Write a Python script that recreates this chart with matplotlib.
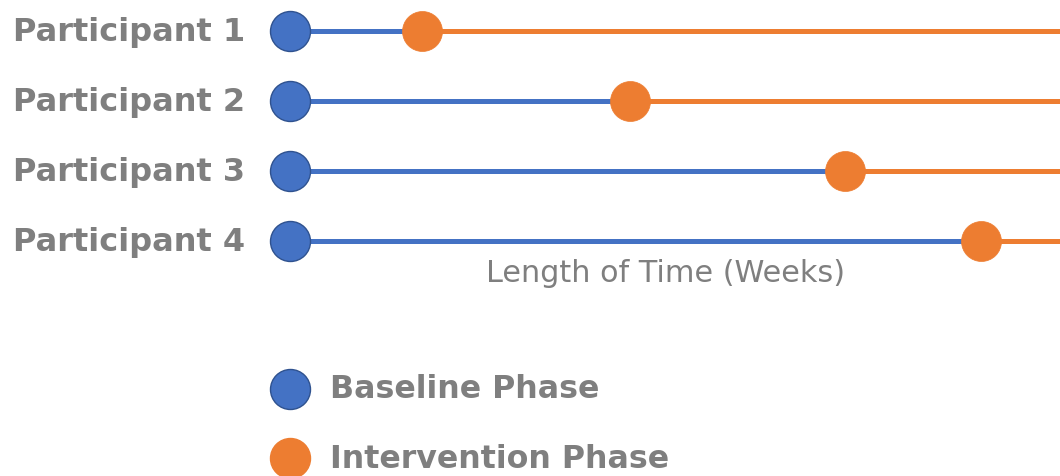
import matplotlib.pyplot as plt

# Multiple-baseline design: each participant starts baseline at week 0,
# then switches to the intervention phase at a staggered week.
participants = ["Participant 1", "Participant 2", "Participant 3", "Participant 4"]
baseline_start = [0, 0, 0, 0]
intervention_start = [3.1, 8.0, 13.05, 16.25]
study_end = 19.0
phase_labels = ["Baseline Phase", "Intervention Phase"]

BLUE = "#4472C4"
BLUE_EDGE = "#2F528F"
ORANGE = "#ED7D31"
GREY = "#7F7F7F"
FONT = ["DejaVu Sans"]

fig = plt.figure(figsize=(10.6, 4.76), dpi=100)
ax = fig.add_axes([0, 0, 1, 1])
ax.set_xlim(-290 / 42.5, 770 / 42.5)
ax.set_ylim(476, 0)
ax.axis("off")

row_y = [31, 101, 171, 241]
ms = 28.8
lw = 3.6

for name, y, b0, i0 in zip(participants, row_y, baseline_start, intervention_start):
    ax.plot([b0, i0], [y, y], color=BLUE, lw=lw, solid_capstyle="butt", zorder=1)
    ax.plot([i0, study_end], [y, y], color=ORANGE, lw=lw, solid_capstyle="butt", zorder=1)
    ax.plot([b0], [y], "o", ms=ms, color=BLUE, mec=BLUE_EDGE, mew=1.0, zorder=3)
    ax.plot([i0], [y], "o", ms=ms, color=ORANGE, mec=ORANGE, mew=0.5, zorder=3)
    ax.text(-45 / 42.5, y + 1, name, ha="right", va="center", fontsize=23,
            fontweight="bold", color=GREY, family=FONT)

ax.text((666 - 290) / 42.5, 273, "Length of Time (Weeks)", ha="center", va="center",
        fontsize=21.8, color=GREY, family=FONT)

# Legend drawn as markers with labels
legend_items = [(phase_labels[0], BLUE, BLUE_EDGE, 389), (phase_labels[1], ORANGE, ORANGE, 458)]
for label, fc, ec, y in legend_items:
    ax.plot([0], [y], "o", ms=ms, color=fc, mec=ec, mew=1.0, clip_on=False)
    ax.text(40 / 42.5, y + 1, label, ha="left", va="center", fontsize=22.8,
            fontweight="bold", color=GREY, family=FONT)

fig.savefig("out.png", dpi=100)
